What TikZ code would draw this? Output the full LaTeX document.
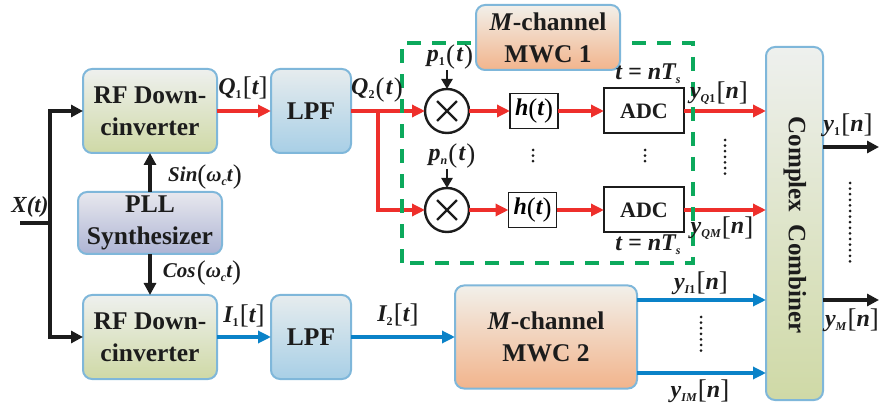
\documentclass[tikz,border=0pt]{standalone}
\usepackage{fontspec}
\setmainfont{Liberation Serif}
\usetikzlibrary{arrows.meta}
\newcommand{\sbs}[1]{\raisebox{-4pt}{\fontsize{12}{12}\selectfont #1}}
\newcommand{\bgl}[1]{{\fontsize{27}{27}\selectfont\mdseries\upshape\raisebox{-1.5pt}{#1}}}
\newcommand{\gp}{\kern1.2pt}
\definecolor{edgeblue}{HTML}{7FB7DA}
\definecolor{sred}{HTML}{EE2F2B}
\definecolor{sblue}{HTML}{0A82C8}
\definecolor{sgreen}{HTML}{0CA95C}
\definecolor{sblack}{HTML}{1C1C1C}
\definecolor{rftop}{HTML}{EEF0EE}
\definecolor{rfbot}{HTML}{CFD9A6}
\definecolor{lpftop}{HTML}{E6ECEE}
\definecolor{lpfbot}{HTML}{A8CFE6}
\definecolor{plltop}{HTML}{E8E8EE}
\definecolor{pllbot}{HTML}{ADB4D4}
\definecolor{mwctop}{HTML}{F2F0EA}
\definecolor{mwcbot}{HTML}{F2B48C}
\tikzset{
 blockbase/.style={draw=edgeblue,line width=2pt,rounded corners=9pt,inner sep=0pt,outer sep=0pt,align=center,
   text=sblack,font=\fontsize{25.5}{32}\selectfont\bfseries},
 rfbox/.style={blockbase,minimum width=134pt,minimum height=84pt,top color=rftop,bottom color=rfbot},
 lpfbox/.style={blockbase,minimum width=80pt,minimum height=84pt,top color=lpftop,bottom color=lpfbot},
 pllbox/.style={blockbase,minimum width=144pt,minimum height=62pt,top color=plltop,bottom color=pllbot},
 mwcbox/.style={blockbase,top color=mwctop,bottom color=mwcbot},
 combbox/.style={blockbase,minimum width=57pt,minimum height=353pt,top color=rftop,bottom color=rfbot},
 filterbox/.style={draw=sblack,line width=1.6pt,inner sep=0pt,outer sep=0pt,minimum width=48pt,minimum height=35pt,fill=white,font=\fontsize{24}{24}\selectfont\bfseries\itshape},
 adcbox/.style={draw=sblack,line width=2pt,inner sep=0pt,outer sep=0pt,minimum width=80pt,minimum height=45pt,fill=white,text=sblack,font=\fontsize{22}{22}\selectfont\bfseries},
 mixer/.style={circle,draw=sblack,line width=2.4pt,inner sep=0pt,outer sep=0pt,minimum size=44pt,fill=white},
 crossline/.style={draw=sblack,line width=2.2pt,shorten >=8pt,shorten <=8pt},
 lab/.style={inner sep=0pt,outer sep=0pt,text=sblack,font=\fontsize{24}{24}\selectfont\bfseries\itshape},
 redw/.style={draw=sred,line width=3.4pt,-{Triangle[length=13pt,width=12pt]}},
 bluew/.style={draw=sblue,line width=3.2pt,-{Triangle[length=13pt,width=12pt]}},
 blackw/.style={draw=sblack,line width=3.4pt,-{Triangle[length=12pt,width=12pt]}},
 blackl/.style={draw=sblack,line width=3.4pt},
 thinw/.style={draw=sblack,line width=2.6pt,-{Triangle[length=10pt,width=11pt]}},
 greendash/.style={draw=sgreen,line width=4pt,dash pattern=on 14pt off 11pt},
 dotcol/.style={draw=sblack,line width=3pt,line cap=round,dash pattern=on 0pt off 5.6pt},
}
\begin{document}
\begin{tikzpicture}[x=1pt,y=-1pt]
\useasboundingbox (0,0) rectangle (879,406);
% blocks
\node[rfbox] (rf1) at (150,111) {RF Down-\\cinverter};
\node[lpfbox] (lpf1) at (311,111) {LPF};
\node[pllbox] (pll) at (150,223) {PLL\\Synthesizer};
\node[rfbox] (rf2) at (150,337) {RF Down-\\cinverter};
\node[lpfbox] (lpf2) at (311,337) {LPF};
\node[mwcbox,minimum width=182pt,minimum height=103pt] (mwc2) at (546,337) {\textit{M}-channel\\MWC 2};
\node[combbox] (comb) at (794.5,223.5) {};
\node[rotate=-90,inner sep=0pt,text=sblack,font=\fontsize{25}{25}\selectfont\bfseries] (combt) at (795,225) {Complex\ \ Combiner};
\node[mixer] (m1) at (447,111) {};
\node[mixer] (m2) at (447,210) {};
\draw[crossline] (m1.45) -- (m1.225);
\draw[crossline] (m1.135) -- (m1.315);
\draw[crossline] (m2.45) -- (m2.225);
\draw[crossline] (m2.135) -- (m2.315);
\node[filterbox] (h1) at (534,111) {h\bgl{(}t\bgl{)}};
\node[filterbox] (h2) at (532.5,210) {h\bgl{(}t\bgl{)}};
\node[adcbox] (adc1) at (644,111) {ADC};
\node[adcbox] (adc2) at (644,210) {ADC};
% free ends
\coordinate (xs) at (20,223);
\coordinate (xj) at (50,223);
\coordinate (xt) at (50,111);
\coordinate (xb) at (50,337);
\coordinate (qj) at (378,111);
\coordinate (qb) at (378,210);
\coordinate (p1s) at (447,70);
\coordinate (pns) at (447,169);
\coordinate (y1e) at (879,147);
\coordinate (yme) at (879,300);
\coordinate (y1s) at (comb.east |- y1e);
\coordinate (yms) at (comb.east |- yme);
\coordinate (qo1) at (comb.west |- adc1.east);
\coordinate (qo2) at (comb.west |- adc2.east);
\coordinate (r1) at (0,300);
\coordinate (r2) at (0,373);
\coordinate (i1o) at (mwc2.east |- r1);
\coordinate (i2o) at (mwc2.east |- r2);
\coordinate (i1e) at (comb.west |- r1);
\coordinate (i2e) at (comb.west |- r2);
% connectors
\draw[blackl] (xs) -- (xj);
\draw[blackw] (xj) -- (xt) -- (rf1.west);
\draw[blackw] (xj) -- (xb) -- (rf2.west);
\draw[blackw] (pll.north) -- (rf1.south);
\draw[blackw] (pll.south) -- (rf2.north);
\draw[redw] (rf1.east) -- (lpf1.west);
\draw[redw] (lpf1.east) -- (m1.west);
\draw[redw] (qj) -- (qb) -- (m2.west);
\draw[redw] (m1.east) -- (h1.west);
\draw[redw] (m2.east) -- (h2.west);
\draw[redw] (h1.east) -- (adc1.west);
\draw[redw] (h2.east) -- (adc2.west);
\draw[redw] (adc1.east) -- (qo1);
\draw[redw] (adc2.east) -- (qo2);
\draw[bluew] (rf2.east) -- (lpf2.west);
\draw[bluew] (lpf2.east) -- (mwc2.west);
\draw[bluew] (i1o) -- (i1e);
\draw[bluew] (i2o) -- (i2e);
\draw[blackw] (y1s) -- (y1e);
\draw[blackw] (yms) -- (yme);
\draw[thinw] (p1s) -- (m1.north);
\draw[thinw] (pns) -- (m2.north);
% dashed frame and block over it
\draw[greendash] (402,263) -- (402,43) -- (693,43) -- (693,263) -- cycle;
\node[mwcbox,minimum width=144pt,minimum height=65pt] (mwc1) at (548,37.5) {\textit{M}-channel\\MWC 1};
% dots
\draw[dotcol] (533,150) -- (533,166);
\draw[dotcol] (645,150) -- (645,166);
\draw[dotcol] (725,140) -- (725,179);
\draw[dotcol] (850,183) -- (850,266);
\draw[dotcol] (701,317) -- (701,356);
% labels
\node[lab] (lq1) at (243,88) {Q\sbs{\upshape 1}\gp\bgl{[}t\bgl{]}};
\node[lab] (lq2) at (377,90) {Q\sbs{\upshape 2}\gp\bgl{(}\gp t\gp\bgl{)}};
\node[lab,font=\fontsize{23}{23}\selectfont\bfseries\itshape] (lx) at (30,207) {X(t)};
\node[lab,font=\fontsize{21}{21}\selectfont\bfseries\itshape] (ls) at (205,177) {Sin\bgl{(}ω\sbs{c}t\bgl{)}};
\node[lab,font=\fontsize{21}{21}\selectfont\bfseries\itshape] (lc) at (202,273) {Cos\gp\bgl{(}ω\sbs{c}t\bgl{)}};
\node[lab] (li1) at (244,316) {I\sbs{\upshape 1}\gp\bgl{[}t\bgl{]}};
\node[lab] (li2) at (398,315) {I\sbs{\upshape 2}\gp\bgl{[}t\bgl{]}};
\node[lab] (lp1) at (450,57) {p\sbs{\upshape 1}\gp\bgl{(}\gp t\gp\bgl{)}};
\node[lab] (lpn) at (452,156) {p\sbs{n}\gp\bgl{(}\gp t\gp\bgl{)}};
\node[lab] (lt1) at (648,74) {t = nT\sbs{s}};
\node[lab] (lt2) at (648,245) {t = nT\sbs{s}};
\node[lab] (ly1) at (719,93) {y\sbs{Q\upshape 1}\gp\bgl{[}n\bgl{]}};
\node[lab] (ly2) at (722,228) {y\sbs{QM}\gp\bgl{[}n\bgl{]}};
\node[lab] (ly3) at (701,283) {y\sbs{I\upshape 1}\gp\bgl{[}n\bgl{]}};
\node[lab] (ly4) at (700,391) {y\sbs{IM}\gp\bgl{[}n\bgl{]}};
\node[lab] (ly5) at (848,125) {y\sbs{\upshape 1}\gp\bgl{[}n\bgl{]}};
\node[lab] (ly6) at (852,320) {y\sbs{M}\gp\bgl{[}n\bgl{]}};
\end{tikzpicture}
\end{document}
